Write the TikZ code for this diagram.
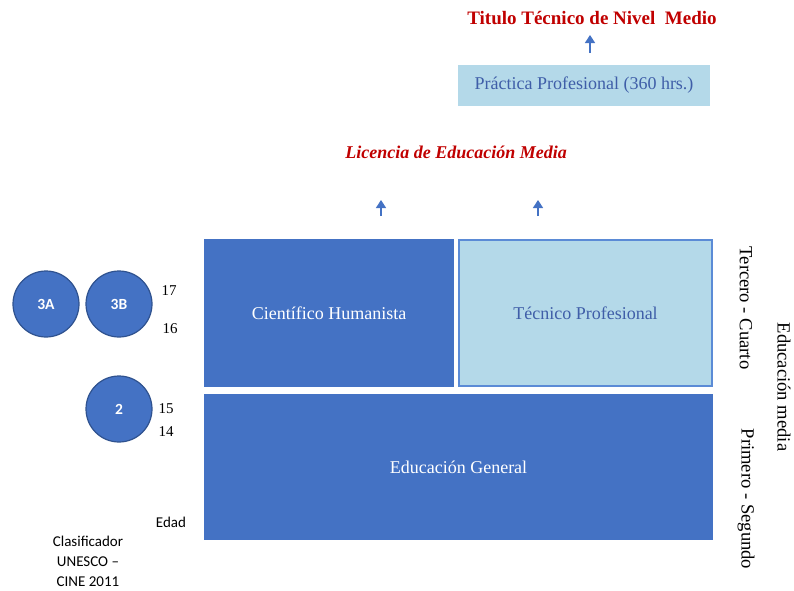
\documentclass[tikz,border=0pt]{standalone}
\usepackage{fontspec}
\setmainfont{Liberation Serif}
\newfontfamily\calibri{Carlito}
\usetikzlibrary{arrows.meta}
\definecolor{accblue}{HTML}{4472C4}
\definecolor{darkrim}{HTML}{2F528F}
\definecolor{paleblue}{HTML}{B4D9E9}
\definecolor{rimblue}{HTML}{5B8BD6}
\definecolor{deepred}{HTML}{C00000}
\definecolor{inkblue}{HTML}{3F5EA8}
\tikzset{
  x=1pt, y=-1pt,
  darkbox/.style={draw=none, fill=accblue, text=white, inner sep=0pt, font=\fontsize{18}{20}\selectfont},
  palebox/.style={fill=paleblue, text=inkblue, inner sep=0pt, font=\fontsize{18}{20}\selectfont},
  level/.style={circle, draw=darkrim, line width=1.2pt, fill=accblue, text=white, minimum size=66pt, inner sep=0pt, font=\calibri\bfseries\fontsize{15.5}{17}\selectfont},
  age/.style={font=\fontsize{15}{17}\selectfont, inner sep=0pt},
  upar/.style={draw=accblue, line width=1.5pt, -{Triangle[length=8pt,width=10pt]}},
  award/.style={text=deepred, font=\bfseries\fontsize{19}{21}\selectfont, inner sep=0pt},
  side/.style={rotate=-90, font=\fontsize{18.6}{20}\selectfont, inner sep=0pt}
}
\begin{document}
\begin{tikzpicture}
\useasboundingbox (0,0) rectangle (794,590);
% top qualification and internship
\node[award] (titulo) at (592,18) {Titulo Técnico de Nivel\ \ Medio};
\node[palebox, minimum width=252pt, minimum height=41pt] (practica) at (584,85.5) {Práctica Profesional (360 hrs.)};
\coordinate (pa) at (590,53);
\draw[upar] (pa) -- (590,35);
% licence and the two tracks
\node[award, font=\bfseries\itshape\fontsize{18}{20}\selectfont] (licencia) at (456,152) {Licencia de Educación Media};
\node[darkbox, minimum width=250pt, minimum height=148pt] (ch) at (329,313) {Científico Humanista};
\node[palebox, draw=rimblue, line width=2pt, minimum width=253pt, minimum height=146pt] (tp) at (585.5,313) {Técnico Profesional};
\node[darkbox, minimum width=509pt, minimum height=146pt] (eg) at (458.5,467) {Educación General};
\coordinate (a1) at (381,216);
\coordinate (a2) at (538,216);
\draw[upar] (a1) -- (381,200);
\draw[upar] (a2) -- (538,200);
% ISCED levels and ages
\node[level] (n3a) at (46,304) {3A};
\node[level] (n3b) at (119,304) {3B};
\node[level] (n2) at (119,409) {2};
\node[age] (e17) at (169,291) {17};
\node[age] (e16) at (170,329) {16};
\node[age] (e15) at (166,409) {15};
\node[age] (e14) at (166,432) {14};
\node[age, font=\calibri\fontsize{15}{17}\selectfont] (edad) at (171,522) {Edad};
\node[align=center, inner sep=0pt, font=\calibri\fontsize{15}{20}\selectfont] (unesco) at (88,561) {Clasificador\\UNESCO –\\CINE 2011};
% side labels
\node[side] (tc) at (746,308) {Tercero - Cuarto};
\node[side] (ps) at (746,499) {Primero - Segundo};
\node[side] (em) at (784,387) {Educación media};
\end{tikzpicture}
\end{document}
